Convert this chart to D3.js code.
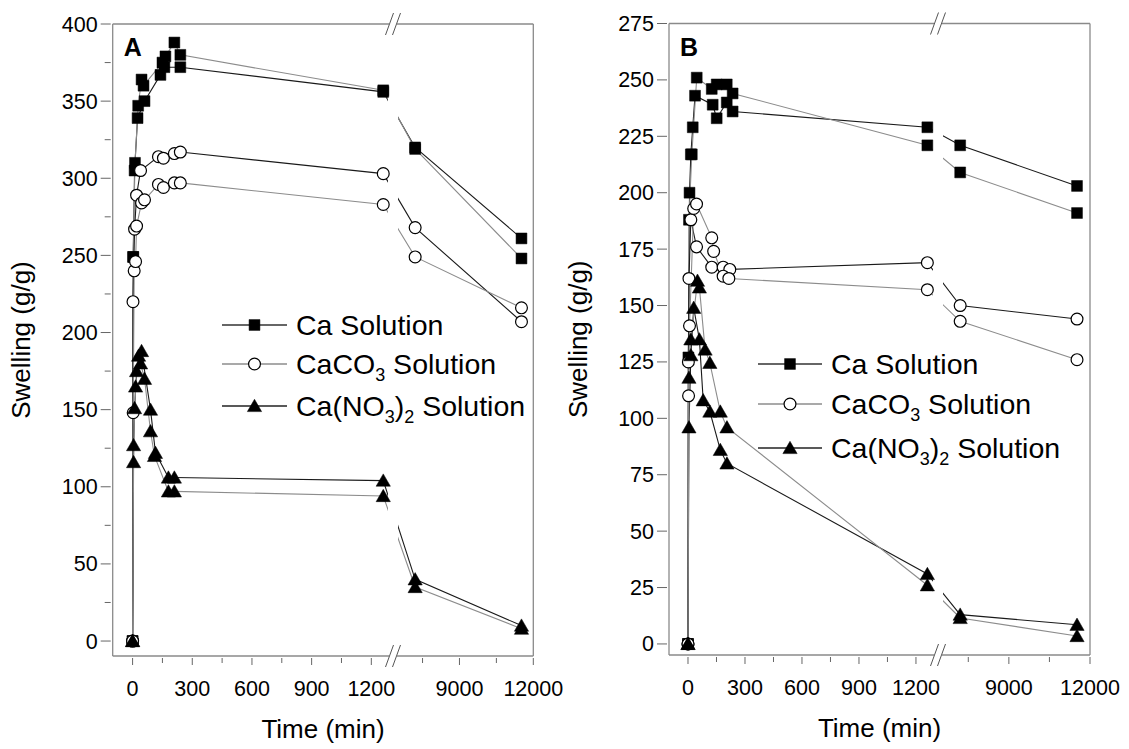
<!DOCTYPE html>
<html>
<head>
<meta charset="utf-8">
<script src="https://cdnjs.cloudflare.com/ajax/libs/d3/7.8.5/d3.min.js"></script>
<style>
  body { margin: 0; background: #fff; }
  text { font-family: Arial, "Liberation Sans", sans-serif; fill: #000; }
</style>
</head>
<body>
<div id="chart"></div>
<script>
// ---- data (time in min, swelling in g/g) ----
// panel A
var aCaT1 = [0, 3, 10, 25, 60, 140, 160, 240, 1260, 7200, 11520];
var aCaV1 = [0, 249, 305, 339, 350, 367, 372, 372, 356, 320, 261];
var aCaT2 = [0, 3, 12, 28, 45, 55, 150, 165, 210, 240, 1260, 7200, 11520];
var aCaV2 = [0, 249, 310, 347, 364, 360, 375, 379, 388, 380, 357, 319, 248];
var aCO3T1 = [0, 2, 10, 20, 40, 130, 155, 210, 240, 1260, 7200, 11520];
var aCO3V1 = [0, 220, 267, 289, 305, 314, 313, 316, 317, 303, 268, 207];
var aCO3T2 = [0, 3, 8, 15, 20, 45, 60, 130, 155, 210, 240, 1260, 7200, 11520];
var aCO3V2 = [0, 148, 240, 246, 269, 284, 286, 296, 294, 297, 297, 283, 249, 216];
var aNO3T1 = [0, 5, 15, 30, 45, 90, 115, 180, 210, 1260, 7200, 11520];
var aNO3V1 = [0, 127, 165, 185, 188, 150, 122, 106, 106, 104, 40, 10];
var aNO3T2 = [0, 5, 10, 20, 40, 60, 90, 110, 180, 210, 1260, 7200, 11520];
var aNO3V2 = [0, 116, 151, 175, 180, 170, 136, 120, 97, 97, 94, 35, 8];
// panel B
var bCaT1 = [0, 2, 8, 15, 25, 37, 130, 151, 204, 235, 1260, 7200, 11520];
var bCaV1 = [0, 127, 200, 217, 229, 243, 239, 233, 240, 236, 229, 221, 203];
var bCaT2 = [0, 5, 20, 46, 125, 151, 204, 235, 1260, 7200, 11520];
var bCaV2 = [0, 188, 217, 251, 246, 248, 248, 244, 221, 209, 191];
var bCO3T1 = [0, 2, 5, 15, 45, 125, 185, 220, 1260, 7200, 11520];
var bCO3V1 = [0, 125, 162, 188, 176, 167, 167, 166, 169, 150, 144];
var bCO3T2 = [0, 3, 8, 30, 45, 125, 135, 185, 215, 1260, 7200, 11520];
var bCO3V2 = [0, 110, 141, 193, 195, 180, 174, 163, 162, 157, 143, 126];
var bNO3T1 = [0, 5, 15, 30, 60, 80, 115, 170, 205, 1260, 7200, 11520];
var bNO3V1 = [0, 96, 128, 149, 135, 108, 103, 86, 80, 31, 13, 8.5];
var bNO3T2 = [0, 5, 15, 50, 60, 90, 115, 170, 205, 1260, 7200, 11520];
var bNO3V2 = [0, 118, 135, 161, 158, 130.5, 124.6, 103, 96, 26, 11.5, 3.5];

// ticks
var xMajor1 = [0, 300, 600, 900, 1200];
var xMinor1 = [150, 450, 750, 1050];
var xMajor2 = [9000, 12000];
var xMinor2 = [7500, 10500];
var yMajorA = [0, 50, 100, 150, 200, 250, 300, 350, 400];
var yMinorA = [25, 75, 125, 175, 225, 275, 325, 375];
var yMajorB = [0, 25, 50, 75, 100, 125, 150, 175, 200, 225, 250, 275];

var legendLabels = [["Ca Solution", null, ""], ["CaCO", "3", " Solution"], ["Ca(NO", "3", ")", "2", " Solution"]];

var width = 1129, height = 749;
var svg = d3.select("#chart").append("svg")
  .attr("width", width).attr("height", height);

function zip(t, v) { return t.map(function(d, i) { return [d, v[i]]; }); }

var panels = [
  {
    letter: "A", left: 112.7, right: 533.3, top: 24, bottom: 656,
    seg1: [-100, 1309], r1: [112.7, 393], seg2: [6300, 12000], r2: [393, 533.3],
    yDom: [-9.7, 400], yMajor: yMajorA, yMinor: yMinorA, titleX: 30,
    legend: { x1: 222, x2: 287, tx: 296, ys: [325, 364, 406] },
    series: [
      { shape: "square", reps: [zip(aCaT1, aCaV1), zip(aCaT2, aCaV2)] },
      { shape: "circle", reps: [zip(aCO3T1, aCO3V1), zip(aCO3T2, aCO3V2)] },
      { shape: "triangle", reps: [zip(aNO3T1, aNO3V1), zip(aNO3T2, aNO3V2)] }
    ]
  },
  {
    letter: "B", left: 669, right: 1090, top: 23.5, bottom: 655,
    seg1: [-100, 1316], r1: [669, 938], seg2: [6380, 12000], r2: [938, 1090],
    yDom: [-4.9, 275], yMajor: yMajorB, yMinor: [], titleX: 587,
    legend: { x1: 758, x2: 822, tx: 831, ys: [364, 404, 448] },
    series: [
      { shape: "square", reps: [zip(bCaT1, bCaV1), zip(bCaT2, bCaV2)] },
      { shape: "circle", reps: [zip(bCO3T1, bCO3V1), zip(bCO3T2, bCO3V2)] },
      { shape: "triangle", reps: [zip(bNO3T1, bNO3V1), zip(bNO3T2, bNO3V2)] }
    ]
  }
];

var repColor = ["#1a1a1a", "#8c8c8c"];
var legendColor = ["#333", "#8c8c8c", "#222"];
var frameColor = "#8a8a8a";

function symbolPath(shape) {
  if (shape === "square") return d3.symbol(d3.symbolSquare, 118)();
  if (shape === "triangle") return d3.symbol(d3.symbolTriangle, 88)();
  return d3.symbol(d3.symbolCircle, 110)();
}

function drawMarker(g, shape, x, y) {
  g.append("path")
    .attr("d", symbolPath(shape))
    .attr("transform", "translate(" + x + "," + (shape === "triangle" ? y + 1.5 : y) + ")")
    .attr("fill", shape === "circle" ? "#fff" : "#000")
    .attr("stroke", "#000")
    .attr("stroke-width", shape === "circle" ? 1.2 : 0.5);
}

panels.forEach(function(p) {
  var s1 = d3.scaleLinear().domain(p.seg1).range(p.r1);
  var s2 = d3.scaleLinear().domain(p.seg2).range(p.r2);
  var x = function(t) { return t <= p.seg1[1] ? s1(t) : s2(t); };
  var y = d3.scaleLinear().domain(p.yDom).range([p.bottom, p.top]);
  var bx = p.r1[1];

  var g = svg.append("g");

  // data lines
  var line = d3.line().x(function(d) { return x(d[0]); }).y(function(d) { return y(d[1]); });
  p.series.forEach(function(s) {
    s.reps.forEach(function(rep, i) {
      g.append("path").datum(rep)
        .attr("d", line)
        .attr("fill", "none")
        .attr("stroke", repColor[i])
        .attr("stroke-width", 1.1);
    });
  });

  // gap where the axis is broken
  g.append("rect")
    .attr("x", bx - 5).attr("y", p.top + 1)
    .attr("width", 10).attr("height", p.bottom - p.top - 2)
    .attr("fill", "#fff");

  // markers
  p.series.forEach(function(s) {
    s.reps.forEach(function(rep) {
      rep.forEach(function(d) { drawMarker(g, s.shape, x(d[0]), y(d[1])); });
    });
  });

  // frame with break
  var fr = g.append("g").attr("stroke", frameColor).attr("stroke-width", 1.3).attr("fill", "none");
  fr.append("line").attr("x1", p.left).attr("x2", p.left).attr("y1", p.top).attr("y2", p.bottom);
  fr.append("line").attr("x1", p.right).attr("x2", p.right).attr("y1", p.top).attr("y2", p.bottom);
  [p.top, p.bottom].forEach(function(yy) {
    fr.append("line").attr("x1", p.left).attr("x2", bx - 4).attr("y1", yy).attr("y2", yy);
    fr.append("line").attr("x1", bx + 4).attr("x2", p.right).attr("y1", yy).attr("y2", yy);
    [-3.5, 3.5].forEach(function(o) {
      fr.append("line")
        .attr("x1", bx + o - 4).attr("y1", yy + 11)
        .attr("x2", bx + o + 4).attr("y2", yy - 11)
        .attr("stroke", "#555").attr("stroke-width", 1);
    });
  });

  // x ticks
  var tk = g.append("g").attr("stroke", "#666").attr("stroke-width", 1);
  xMajor1.map(s1).concat(xMajor2.map(s2)).forEach(function(px) {
    tk.append("line").attr("x1", px).attr("x2", px).attr("y1", p.bottom + 2).attr("y2", p.bottom + 9);
  });
  xMinor1.map(s1).concat(xMinor2.map(s2)).forEach(function(px) {
    tk.append("line").attr("x1", px).attr("x2", px).attr("y1", p.bottom + 2).attr("y2", p.bottom + 7);
  });
  xMajor1.forEach(function(t) {
    g.append("text").attr("x", s1(t)).attr("y", p.bottom + 40)
      .attr("text-anchor", "middle").style("font-size", "21.5px").text(t);
  });
  xMajor2.forEach(function(t) {
    g.append("text").attr("x", s2(t)).attr("y", p.bottom + 40)
      .attr("text-anchor", "middle").style("font-size", "21.5px").text(t);
  });

  // y ticks
  p.yMajor.forEach(function(v) {
    tk.append("line").attr("x1", p.left - 12).attr("x2", p.left - 2).attr("y1", y(v)).attr("y2", y(v));
    g.append("text").attr("x", p.left - 15).attr("y", y(v) + 7.5)
      .attr("text-anchor", "end").style("font-size", "21.5px").text(v);
  });
  p.yMinor.forEach(function(v) {
    tk.append("line").attr("x1", p.left - 8).attr("x2", p.left - 2).attr("y1", y(v)).attr("y2", y(v));
  });

  // titles
  g.append("text")
    .attr("transform", "translate(" + p.titleX + "," + ((p.top + p.bottom) / 2) + ") rotate(-90)")
    .attr("text-anchor", "middle").style("font-size", "26px").text("Swelling (g/g)");
  g.append("text")
    .attr("x", (p.left + p.right) / 2).attr("y", p.bottom + 82)
    .attr("text-anchor", "middle").style("font-size", "26px").text("Time (min)");
  g.append("text")
    .attr("x", p.left + 11).attr("y", p.top + 32)
    .style("font-size", "25px").style("font-weight", "bold").text(p.letter);

  // legend
  p.series.forEach(function(s, i) {
    var ly = p.legend.ys[i];
    g.append("line").attr("x1", p.legend.x1).attr("x2", p.legend.x2)
      .attr("y1", ly).attr("y2", ly).attr("stroke", legendColor[i]).attr("stroke-width", 1.3);
    drawMarker(g, s.shape, (p.legend.x1 + p.legend.x2) / 2, ly);
    var txt = g.append("text").attr("x", p.legend.tx).attr("y", ly + 10).style("font-size", "28.5px");
    legendLabels[i].forEach(function(part, k) {
      if (part === null || part === "") return;
      var sub = (k % 2 === 1);
      txt.append("tspan")
        .attr("dy", sub ? 7 : (k > 0 ? -7 : 0))
        .style("font-size", sub ? "18px" : "28.5px")
        .text(part);
    });
  });
});
</script>
</body>
</html>
